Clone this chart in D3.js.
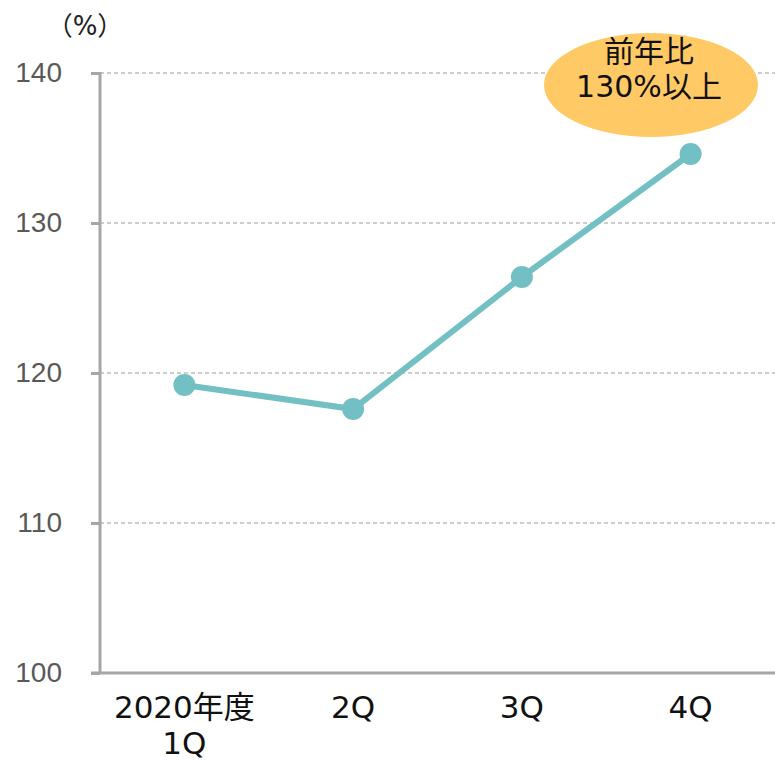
<!DOCTYPE html>
<html><head><meta charset="utf-8">
<script src="https://cdn.jsdelivr.net/npm/d3@7"></script>
<style>body{margin:0;background:#fff}svg{display:block;font-family:"DejaVu Sans","Noto Sans CJK JP",sans-serif}</style>
</head><body><svg id="c" width="775" height="761"></svg>
<script>
const categories = [["2020年度","1Q"],["2Q"],["3Q"],["4Q"]];
const values = [119.2, 117.6, 126.4, 134.6];
const yTicks = [100, 110, 120, 130, 140];
const unitLabel = "（%）";
const callout = ["前年比", "130%以上"];

const FONT = "'DejaVu Sans','Noto Sans CJK JP',sans-serif";
const svg = d3.select("#c");
const x = d3.scaleBand().domain(d3.range(categories.length)).range([100, 775]);
const y = d3.scaleLinear().domain([100, 140]).range([673, 73]);

// gridlines
svg.append("g").selectAll("line").data(yTicks.filter(d => d > 100)).join("line")
  .attr("x1", 100).attr("x2", 775).attr("y1", d => y(d)).attr("y2", d => y(d))
  .attr("stroke", "#bdbdbd").attr("stroke-width", 1.3).attr("stroke-dasharray", "4,3");

// y axis
const ya = svg.append("g").attr("transform", "translate(100,0)")
  .call(d3.axisLeft(y).tickValues(yTicks).tickSize(9).tickPadding(29).tickFormat(d3.format("d")));
ya.select(".domain").remove();
ya.selectAll(".tick line").attr("stroke", "#a6a6a6").attr("stroke-width", 3);
ya.selectAll(".tick text").attr("fill", "#595959").attr("font-size", 28)
  .attr("font-family", "'Liberation Sans',Arial,sans-serif");
svg.append("line").attr("x1", 100).attr("x2", 100).attr("y1", 72).attr("y2", 674)
  .attr("stroke", "#a6a6a6").attr("stroke-width", 3);
svg.append("line").attr("x1", 91).attr("x2", 775).attr("y1", 673).attr("y2", 673)
  .attr("stroke", "#a6a6a6").attr("stroke-width", 3);

svg.append("text").attr("x", 85).attr("y", 35).attr("text-anchor", "middle")
  .attr("font-size", 26).attr("fill", "#222").text(unitLabel);

// x labels
const xl = svg.append("g");
categories.forEach((c, i) => {
  const cx = x(i) + x.bandwidth() / 2;
  const t = xl.append("text").attr("x", cx).attr("y", 718)
    .attr("text-anchor", "middle").attr("font-size", 31).attr("fill", "#111");
  c.forEach((s, j) => t.append("tspan").attr("x", cx).attr("dy", j ? 36 : 0).text(s));
});

// line
const line = d3.line().x((d, i) => x(i) + x.bandwidth() / 2).y(d => y(d));
svg.append("path").datum(values).attr("d", line).attr("fill", "none")
  .attr("stroke", "#72bfc4").attr("stroke-width", 6);
svg.append("g").selectAll("circle").data(values).join("circle")
  .attr("cx", (d, i) => x(i) + x.bandwidth() / 2).attr("cy", d => y(d)).attr("r", 11)
  .attr("fill", "#72bfc4");

// callout
svg.append("ellipse").attr("cx", 651).attr("cy", 85).attr("rx", 107).attr("ry", 52).attr("fill", "#ffca66");
const ct = svg.append("text").attr("text-anchor", "middle").attr("font-size", 30).attr("fill", "#111");
callout.forEach((s, j) => ct.append("tspan").attr("x", 649).attr("y", j ? 97 : 62).text(s));
</script></body></html>
